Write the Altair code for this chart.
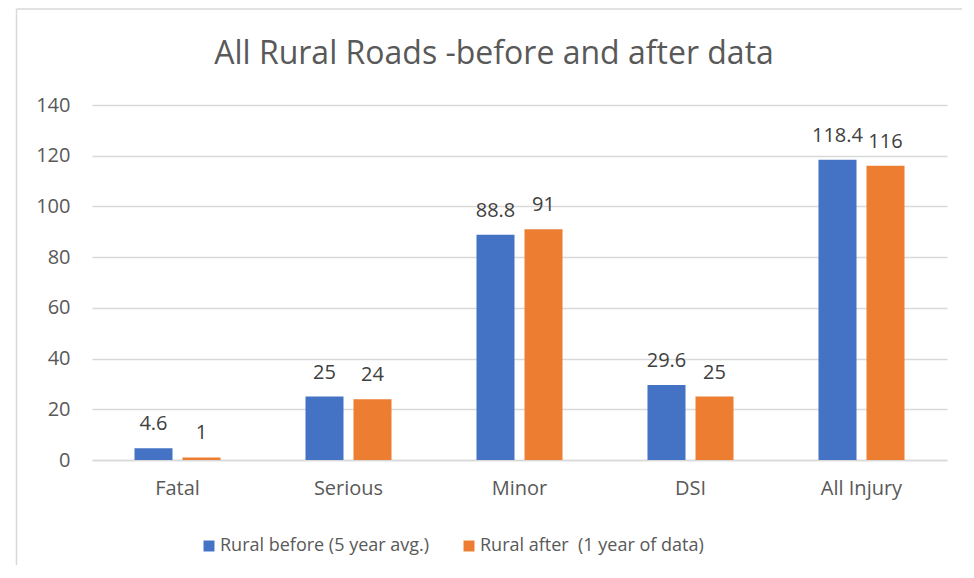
import altair as alt
import pandas as pd

chart_title = "All Rural Roads -before and after data"
categories = ["Fatal", "Serious", "Minor", "DSI", "All Injury"]
series = ["Rural before (5 year avg.)", "Rural after\u00a0 (1 year of data)"]
before = [4.6, 25, 88.8, 29.6, 118.4]
after = [1, 24, 91, 25, 116]
y_ticks = [0, 20, 40, 60, 80, 100, 120, 140]
colors = ["#4472C4", "#ED7D31"]

rows = []
for c, b, a in zip(categories, before, after):
    rows.append({"cat": c, "series": series[0], "value": b, "label": f"{b:g}"})
    rows.append({"cat": c, "series": series[1], "value": a, "label": f"{a:g}"})
df = pd.DataFrame(rows)

font = "Open Sans"
gray = "#595959"
grid = "#d9d9d9"

base = alt.Chart(df).encode(
    x=alt.X("cat:N", sort=categories,
            scale=alt.Scale(paddingInner=0, paddingOuter=0),
            axis=alt.Axis(title=None, labelAngle=0, labelFontSize=20, labelColor=gray,
                          labelFont=font, ticks=False, domainColor=grid, domainWidth=1.5,
                          labelPadding=18)),
    xOffset=alt.XOffset("series:N", sort=series,
                        scale=alt.Scale(paddingInner=0.208, paddingOuter=0.885)),
)

bars = base.mark_bar().encode(
    y=alt.Y("value:Q", scale=alt.Scale(domain=[0, 140]),
            axis=alt.Axis(values=y_ticks, title=None, grid=True, gridColor=grid, gridWidth=1.5,
                          domain=False, ticks=False, labelFontSize=20, labelColor=gray,
                          labelFont=font, labelPadding=22)),
    color=alt.Color("series:N", sort=series,
                    scale=alt.Scale(domain=series, range=colors),
                    legend=alt.Legend(title=None, orient="none", legendX=108, legendY=432,
                                      direction="horizontal", symbolType="square",
                                      symbolSize=120, symbolStrokeWidth=0,
                                      labelFontSize=18, labelColor=gray, labelFont=font,
                                      labelOffset=2, columnPadding=30, labelLimit=0)),
)

labels = base.mark_text(baseline="alphabetic", dy=-18, fontSize=20, color="#404040", font=font).encode(
    y=alt.Y("value:Q"),
    text=alt.Text("label:N"),
)

title_text = alt.Chart(pd.DataFrame({"t": [chart_title]})).mark_text(
    fontSize=32, color=gray, font=font, baseline="middle", align="center"
).encode(x=alt.value(402), y=alt.value(-51), text="t:N")

border_left = alt.Chart(pd.DataFrame({"a": [0]})).mark_rule(color=grid, strokeWidth=1.5).encode(
    x=alt.value(-75.5), y=alt.value(-96), y2=alt.value(460))
border_top = alt.Chart(pd.DataFrame({"a": [0]})).mark_rule(color=grid, strokeWidth=1.5).encode(
    x=alt.value(-75.5), x2=alt.value(875), y=alt.value(-96))

chart = alt.layer(border_left, border_top, bars, labels, title_text).properties(
    width=855, height=355,
    autosize=alt.AutoSizeParams(type="none"),
    padding={"left": 84, "top": 97, "right": 15, "bottom": 105},
).configure_view(stroke=None)

chart.save("out.html", embed_options={"renderer": "svg", "actions": False})
